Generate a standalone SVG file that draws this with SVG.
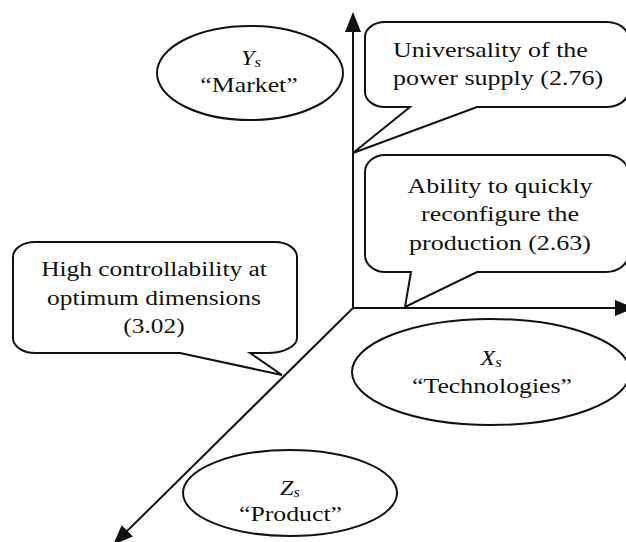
<svg xmlns="http://www.w3.org/2000/svg" width="626" height="542" viewBox="0 0 626 542">
  <style>
    .bg { fill: #ffffff; }
    .shape { fill: #ffffff; stroke: #111111; stroke-width: 2; stroke-linejoin: miter; }
    .axis { fill: none; stroke: #111111; stroke-width: 2; }
    .t { font-family: "Liberation Serif", "Times New Roman", serif; font-size: 20px; fill: #111111; }
    .c { text-anchor: middle; }
    .it { font-style: italic; font-size: 22px; }
    .sub { font-size: 15px; }
  </style>
  <defs>
    <marker id="arrow" viewBox="0 0 20 16" refX="16" refY="8" markerWidth="20" markerHeight="16" markerUnits="userSpaceOnUse" orient="auto">
      <path d="M0,0 L20,8 L0,16 Z" fill="#111111"/>
    </marker>
  </defs>

  <rect class="bg" x="0" y="0" width="626" height="542"/>

  <!-- coordinate axes -->
  <g id="connectors">
    <line class="axis" x1="353" y1="308" x2="353" y2="16" marker-end="url(#arrow)"/>
    <line class="axis" x1="353" y1="308" x2="631" y2="308" marker-end="url(#arrow)"/>
    <line class="axis" x1="353" y1="308" x2="116" y2="542" marker-end="url(#arrow)"/>
  </g>

  <!-- axis labels -->
  <g id="node-ys">
    <ellipse class="shape" cx="250" cy="73" rx="93" ry="47"/>
    <g transform="translate(251 0) scale(1.1 1)">
      <text class="t it c" x="0" y="65">Y<tspan class="sub" dy="2">s</tspan></text>
    </g>
    <g transform="translate(249 0) scale(1.29 1)">
      <text class="t c" x="0" y="92">“Market”</text>
    </g>
  </g>

  <g id="node-xs">
    <ellipse class="shape" cx="491" cy="372" rx="139" ry="53"/>
    <g transform="translate(491 0) scale(1.1 1)">
      <text class="t it c" x="0" y="365">X<tspan class="sub" dy="2">s</tspan></text>
    </g>
    <g transform="translate(492 0) scale(1.29 1)">
      <text class="t c" x="0" y="393">“Technologies”</text>
    </g>
  </g>

  <g id="node-zs">
    <ellipse class="shape" cx="290" cy="493" rx="107" ry="43"/>
    <g transform="translate(290 0) scale(1.1 1)">
      <text class="t it c" x="0" y="495">Z<tspan class="sub" dy="2">s</tspan></text>
    </g>
    <g transform="translate(290.5 0) scale(1.29 1)">
      <text class="t c" x="0" y="521.5">“Product”</text>
    </g>
  </g>

  <!-- callouts -->
  <g id="callout-power">
    <path class="shape" d="M385,22 H606 A22 15 0 0 1 628,37 V92 A22 15 0 0 1 606,107 H477 L353,153 L410,107 H385 A20 15 0 0 1 365,92 V37 A20 15 0 0 1 385,22 Z"/>
    <g transform="translate(393 0) scale(1.3 1)">
      <text class="t" x="0" y="56.7">Universality of the</text>
      <text class="t" x="0" y="85.5">power supply (2.76)</text>
    </g>
  </g>

  <g id="callout-reconfigure">
    <path class="shape" d="M385,155 H606 A22 17 0 0 1 628,172 V255 A22 17 0 0 1 606,272 H477 L405,307 L411,272 H385 A20 17 0 0 1 365,255 V172 A20 17 0 0 1 385,155 Z"/>
    <g transform="translate(500 0) scale(1.3 1)">
      <text class="t c" x="0" y="193">Ability to quickly</text>
      <text class="t c" x="0" y="221.5">reconfigure the</text>
      <text class="t c" x="0" y="250">production (2.63)</text>
    </g>
  </g>

  <g id="callout-controllability">
    <path class="shape" d="M35,242 H275 A22 15 0 0 1 297,257 V338 A30 15 0 0 1 267,353 H250 L282,375 L180,353 H35 A22 15 0 0 1 13,338 V257 A22 15 0 0 1 35,242 Z"/>
    <g transform="translate(154 0) scale(1.27 1)">
      <text class="t c" x="0" y="276.5">High controllability at</text>
      <text class="t c" x="0" y="305">optimum dimensions</text>
      <text class="t c" x="0" y="333.3">(3.02)</text>
    </g>
  </g>
</svg>
